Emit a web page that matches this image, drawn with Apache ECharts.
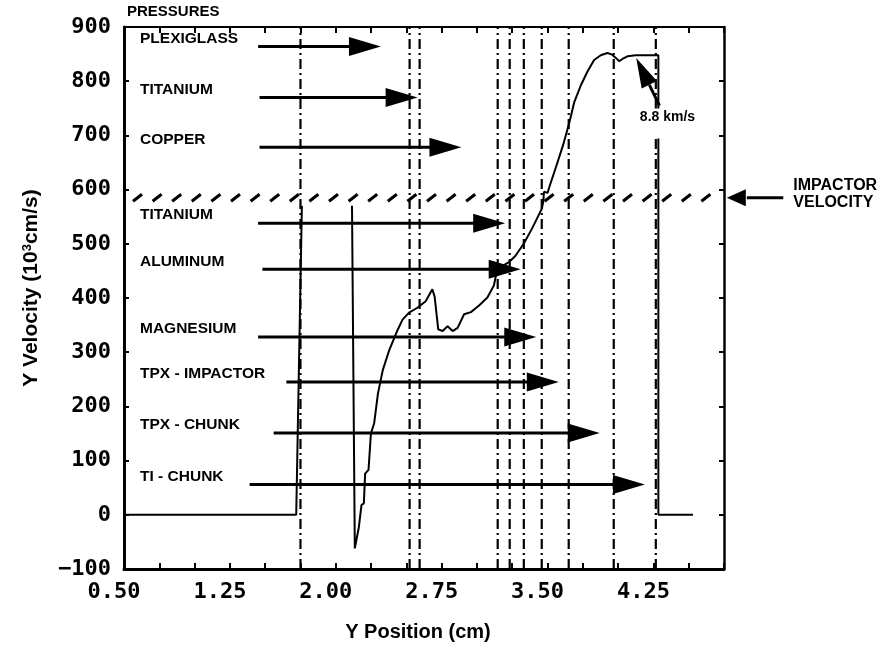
<!DOCTYPE html>
<html><head><meta charset="utf-8">
<script src="https://cdn.jsdelivr.net/npm/echarts@6/dist/echarts.min.js"></script>
<style>html,body{margin:0;padding:0;background:#fff;}#c{width:881px;height:649px;}</style>
</head><body><div id="c"></div>
<script>
// ---------- data ----------
const xTickLabels = ['0.50', '1.25', '2.00', '2.75', '3.50', '4.25'];
const yTickLabels = ['\u2212100', '0', '100', '200', '300', '400', '500', '600', '700', '800', '900'];

// main velocity profile (null = break in the trace)
const curveX = [0.5, 1.72, 1.76, null,
  2.115, 2.135, 2.164, 2.182, 2.199, 2.208, 2.232, 2.249, 2.272, 2.299, 2.333, 2.379, 2.438, 2.473,
  2.519, 2.578, 2.637, 2.684, 2.700, 2.726, 2.757, 2.792, 2.828, 2.863, 2.909, 2.957, 3.015, 3.074,
  3.120, 3.144, 3.226, 3.273, 3.331, 3.390, 3.460, 3.470, 3.475, 3.500, 3.517, 3.564, 3.610, 3.656,
  3.690, 3.737, 3.783, 3.830, 3.877, 3.924, 3.958, 3.984, 4.007, 4.031, 4.066, 4.125, 4.285, 4.285, 4.53];
const curveY = [0, 0, 570, null,
  570, -62, -22, 18, 21, 76, 83, 150, 169, 224, 267, 304, 341, 360,
  373, 382, 394, 416, 403, 342, 339, 348, 339, 345, 370, 374, 386, 401,
  423, 453, 466, 478, 500, 528, 565, 578, 596, 594, 608, 645, 682, 725,
  762, 793, 818, 839, 848, 852, 849, 843, 837, 841, 846, 848, 848, 0, 0];

// material boundary positions (dash-dot verticals)
const boundaryX = [1.75, 2.523, 2.594, 3.147, 3.232, 3.332, 3.459, 3.650, 3.969, 4.267];

// labelled pressure arrows
const materials = ['PLEXIGLASS', 'TITANIUM', 'COPPER', 'TITANIUM', 'ALUMINUM', 'MAGNESIUM', 'TPX - IMPACTOR', 'TPX - CHUNK', 'TI - CHUNK'];
const arrowY      = [864, 770, 678, 538, 453, 328, 245, 151, 56];
const arrowStartX = [1.45, 1.46, 1.46, 1.45, 1.48, 1.45, 1.65, 1.56, 1.39];
const arrowTipX   = [2.32, 2.58, 2.89, 3.20, 3.31, 3.42, 3.58, 3.87, 4.19];

const impactorVelocity = 585;
const impactorArrowX = [5.17, 4.77];          // tail, tip
const shockArrowX = [4.293, 4.128];           // tail, tip
const shockArrowY = [755, 843];
const shockLabel = '8.8 km/s';
const topNote = 'PRESSURES';

const X_MIN = 0.5, X_MAX = 4.75, Y_MIN = -100, Y_MAX = 900;

// ---------- helpers ----------
function head(from, tip, len, half) {
  const dx = tip[0] - from[0], dy = tip[1] - from[1];
  const L = Math.sqrt(dx * dx + dy * dy) || 1;
  const ux = dx / L, uy = dy / L;
  const bx = tip[0] - ux * len, by = tip[1] - uy * len;
  const nx = -uy, ny = ux;
  return { base: [bx, by], pts: [tip, [bx + nx * half, by + ny * half], [bx - nx * half, by - ny * half]] };
}

// split curve into segments at nulls
const segments = [];
let cur = [];
for (let i = 0; i < curveX.length; i++) {
  if (curveX[i] === null) { if (cur.length) segments.push(cur); cur = []; }
  else cur.push([curveX[i], curveY[i]]);
}
if (cur.length) segments.push(cur);

const LBL_FONT = 'bold 15.5px "Liberation Sans", Arial, sans-serif';

const series = [];
segments.forEach(seg => series.push({
  type: 'line', data: seg, showSymbol: false, symbol: 'none', z: 3,
  lineStyle: { color: '#000', width: 2 }, silent: true, clip: false
}));

series.push({
  type: 'custom', z: 2, silent: true,
  data: boundaryX.map(v => [v]),
  encode: { x: 0 },
  renderItem: function (params, api) {
    const p1 = api.coord([api.value(0), Y_MIN]);
    const p2 = api.coord([api.value(0), Y_MAX]);
    return { type: 'line', shape: { x1: p1[0], y1: p1[1], x2: p2[0], y2: p2[1] },
      style: { stroke: '#000', lineWidth: 2.2, lineDash: [10, 4, 2, 4] } };
  }
});

series.push({
  type: 'custom', z: 4, silent: true, clip: false,
  data: [[X_MIN, impactorVelocity]],
  encode: { x: 0, y: 1 },
  renderItem: function (params, api) {
    const cs = params.coordSys;
    const y = api.coord([api.value(0), api.value(1)])[1];
    const ch = [];
    for (let x = cs.x + 9; x < cs.x + cs.width - 6; x += 19.6) {
      ch.push({ type: 'line', shape: { x1: x, y1: y + 3.5, x2: x + 9, y2: y - 3.5 },
        style: { stroke: '#000', lineWidth: 3 } });
    }
    return { type: 'group', children: ch };
  }
});

series.push({
  type: 'custom', z: 5, silent: true,
  data: materials.map((m, i) => [arrowStartX[i], arrowTipX[i], arrowY[i]]),
  encode: { x: [0, 1], y: 2 },
  renderItem: function (params, api) {
    const cs = params.coordSys;
    const s = api.coord([api.value(0), api.value(2)]);
    const t = api.coord([api.value(1), api.value(2)]);
    const h = head(s, t, 32, 9.5);
    return { type: 'group', children: [
      { type: 'line', shape: { x1: s[0], y1: s[1], x2: h.base[0] + 1, y2: h.base[1] }, style: { stroke: '#000', lineWidth: 3 } },
      { type: 'polygon', shape: { points: h.pts }, style: { fill: '#000' } },
      { type: 'text', style: { text: materials[params.dataIndex], x: cs.x + 16, y: s[1] - 8, fill: '#000',
        font: LBL_FONT, align: 'left', verticalAlign: 'middle', textAlign: 'left', textVerticalAlign: 'middle' } }
    ] };
  }
});

series.push({
  type: 'custom', z: 6, silent: true, clip: false,
  data: [[impactorArrowX[0], impactorArrowX[1], impactorVelocity]],
  encode: { x: [0, 1], y: 2 },
  renderItem: function (params, api) {
    const s = api.coord([api.value(0), api.value(2)]);
    const t = api.coord([api.value(1), api.value(2)]);
    const h = head(s, t, 19, 8.5);
    const f = 'bold 16px "Liberation Sans", Arial, sans-serif';
    return { type: 'group', children: [
      { type: 'line', shape: { x1: s[0], y1: s[1], x2: h.base[0] + 1, y2: h.base[1] }, style: { stroke: '#000', lineWidth: 3 } },
      { type: 'polygon', shape: { points: h.pts }, style: { fill: '#000' } },
      { type: 'text', style: { text: 'IMPACTOR', x: s[0] + 10, y: s[1] - 12, fill: '#000', font: f, align: 'left', verticalAlign: 'middle', textAlign: 'left', textVerticalAlign: 'middle' } },
      { type: 'text', style: { text: 'VELOCITY', x: s[0] + 10, y: s[1] + 5, fill: '#000', font: f, align: 'left', verticalAlign: 'middle', textAlign: 'left', textVerticalAlign: 'middle' } }
    ] };
  }
});

series.push({
  type: 'custom', z: 7, silent: true, clip: false,
  data: [[shockArrowX[0], shockArrowY[0], shockArrowX[1], shockArrowY[1]]],
  encode: { x: [0, 2], y: [1, 3] },
  renderItem: function (params, api) {
    const s = api.coord([api.value(0), api.value(1)]);
    const t = api.coord([api.value(2), api.value(3)]);
    const h = head(s, t, 30, 8.5);
    return { type: 'group', children: [
      { type: 'text', style: { text: shockLabel, x: s[0] + 8, y: s[1] + 3, fill: '#000',
        font: 'bold 14px "Liberation Sans", Arial, sans-serif', align: 'center', verticalAlign: 'top',
        textAlign: 'center', textVerticalAlign: 'top', backgroundColor: '#fff', padding: [2, 1, 14, 1] } },
      { type: 'line', shape: { x1: s[0], y1: s[1], x2: h.base[0], y2: h.base[1] }, style: { stroke: '#000', lineWidth: 3 } },
      { type: 'polygon', shape: { points: h.pts }, style: { fill: '#000' } }
    ] };
  }
});

const tickFont = { fontFamily: '"DejaVu Sans Mono", monospace', fontWeight: 'bold', fontSize: 22, color: '#000' };

const option = {
  animation: false,
  backgroundColor: '#fff',
  grid: { left: 124, right: 157, top: 27, bottom: 80, containLabel: false },
  graphic: [{ type: 'text', left: 127, top: 4, style: { text: topNote, fill: '#000', font: 'bold 15px "Liberation Sans", Arial, sans-serif' } }],
  xAxis: [
    { type: 'value', position: 'bottom', min: X_MIN, max: X_MAX, interval: 0.25,
      axisLine: { onZero: false, lineStyle: { color: '#000', width: 3 } },
      axisTick: { inside: true, length: 6, lineStyle: { color: '#000', width: 2 } },
      splitLine: { show: false },
      axisLabel: Object.assign({ margin: 12, padding: [0, 20, 0, 0], showMinLabel: true, showMaxLabel: true,
        formatter: v => { const s = v.toFixed(2); return xTickLabels.indexOf(s) >= 0 ? s : ''; } }, tickFont),
      name: 'Y Position (cm)', nameLocation: 'middle', nameGap: 53,
      nameTextStyle: { fontFamily: '"Liberation Sans", Arial, sans-serif', fontWeight: 'bold', fontSize: 20, color: '#000', padding: [0, 12, 0, 0] } },
    { type: 'value', position: 'top', min: X_MIN, max: X_MAX, interval: 0.25,
      axisLine: { onZero: false, lineStyle: { color: '#000', width: 2 } },
      axisTick: { inside: true, length: 6, lineStyle: { color: '#000', width: 2 } },
      axisLabel: { show: false }, splitLine: { show: false } }
  ],
  yAxis: [
    { type: 'value', position: 'left', min: Y_MIN, max: Y_MAX, interval: 100,
      axisLine: { show: true, onZero: false, lineStyle: { color: '#000', width: 3 } },
      axisTick: { show: true, inside: true, length: 5, lineStyle: { color: '#000', width: 2 } },
      splitLine: { show: false },
      axisLabel: Object.assign({ margin: 13, formatter: v => yTickLabels[Math.round((v - Y_MIN) / 100)] }, tickFont),
      name: 'Y Velocity (10{sup|3}cm/s)', nameLocation: 'middle', nameGap: 82,
      nameTextStyle: { fontFamily: '"Liberation Sans", Arial, sans-serif', fontWeight: 'bold', fontSize: 21, color: '#000', padding: [0, 0, 0, 20],
        rich: { sup: { fontFamily: '"Liberation Sans", Arial, sans-serif', fontWeight: 'bold', fontSize: 13, color: '#000', verticalAlign: 'top', padding: [0, 0, 7, 0] } } } },
    { type: 'value', position: 'right', min: Y_MIN, max: Y_MAX, interval: 100,
      axisLine: { show: true, onZero: false, lineStyle: { color: '#000', width: 2.5 } },
      axisTick: { show: true, inside: true, length: 5, lineStyle: { color: '#000', width: 2 } },
      axisLabel: { show: false }, splitLine: { show: false } }
  ],
  series: series
};

const chart = echarts.init(document.getElementById('c'), null, { renderer: 'canvas' });
chart.setOption(option);
</script>
</body></html>
